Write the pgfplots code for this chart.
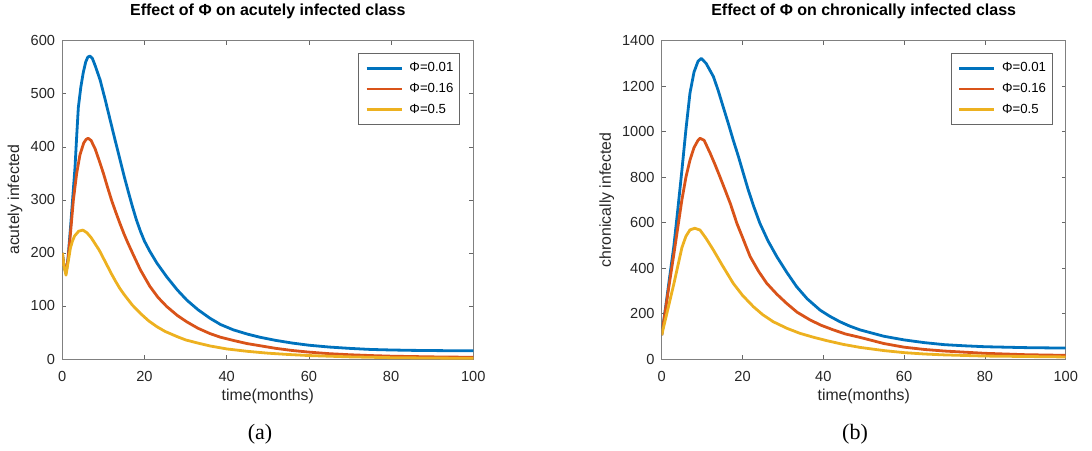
\documentclass[border=0pt]{standalone}
\usepackage{fontspec}
\setmainfont{Liberation Sans}
\newfontfamily\capfont{Liberation Serif}
\usepackage{pgfplots}
\pgfplotsset{compat=1.18}

\definecolor{mblue}{rgb}{0,0.447,0.741}
\definecolor{morange}{rgb}{0.85,0.325,0.098}
\definecolor{myellow}{rgb}{0.929,0.694,0.125}

\pgfplotsset{
  myaxis/.style={
    scale only axis,
    xmin=0,xmax=100,
    ymin=0,
    xtick={0,20,...,100},
    tick align=inside,
    major tick length=4pt,
    axis line style={black!50, line width=0.8pt},
    every tick/.style={black!60, line width=0.6pt},
    tick label style={font=\fontsize{14.6}{16}\selectfont, text=black!85},
    /pgf/number format/assume math mode=true,
    /pgf/number format/1000 sep={},
    xticklabel style={anchor=base, yshift=-22.7pt},
    yticklabel style={anchor=east, inner sep=0pt, xshift=-7pt},
    label style={font=\fontsize{15.8}{17}\selectfont, text=black!85},
    xlabel style={at={(axis description cs:0.5,0)}, anchor=base, yshift=-41pt},
    title style={at={(axis description cs:0.5,1)}, anchor=base, yshift=19pt, font=\bfseries\fontsize{16}{18}\selectfont},
    legend style={at={(0.968,0.960)}, anchor=north east, draw=black!60, fill=white, line width=0.7pt,
      font=\fontsize{13.2}{14}\selectfont, inner xsep=6.4pt, inner ysep=7.8pt,
      row sep=7.6pt, column sep=6.5pt,
      nodes={inner sep=0pt, text height=10pt, text depth=3.2pt}},
    legend cell align=left,
    legend image code/.code={\draw[#1] (0pt,0pt) -- (35pt,0pt);},
    every axis plot/.append style={line width=2.8pt, line join=round},
  }
}

\begin{document}
\begin{tikzpicture}
\path[use as bounding box] (0,0) rectangle (1092pt,450pt);

\begin{axis}[myaxis, at={(62.3pt,91pt)}, anchor=south west,
  width=411pt, height=318.3pt, ymax=600, ytick={0,100,...,600},
  title={Effect of Φ on acutely infected class},
  xlabel={time(months)}, ylabel={acutely infected},
  ylabel style={at={(axis description cs:-0.115,0.5)}, anchor=center}]
\addplot[mblue] coordinates {(0,200)(0.4,176)(0.9,162)(1.4,190)(2,248)(2.5,300)(3.1,362)(3.5,420)(3.9,474)(4.5,512)(5.1,540)(5.7,560)(6.2,569)(6.7,571)(7.3,567)(8.0,553)(9.2,526)(10.4,490)(11.6,452)(12.8,414)(14,377)(15,346)(16,317)(17,289)(18,263)(19,241)(20,222)(21.3,203)(23,181)(25.4,155)(28,130)(30.3,111)(33,93)(35.9,77)(38.5,65)(41.6,55)(45,47)(48.1,41)(52,35)(56,30)(60,26)(65,22.5)(70,20)(75,18)(80,17)(85,16.3)(90,15.9)(95,15.6)(100,15.5)};
\addplot[morange] coordinates {(0,200)(0.4,176)(0.9,163)(1.4,188)(2,238)(2.7,300)(3.5,350)(4.3,385)(5.2,407)(5.8,414)(6.3,416)(7.0,412)(8.0,396)(9.2,369)(10,350)(11,324)(12,299)(13,277)(14,256)(15,236)(16,218)(17.3,196)(19,168)(21.3,137)(23.3,116)(25.4,99)(28,82)(30.3,70)(33,58)(35.9,48)(38.5,41)(41.6,35)(45,29)(48.1,25)(52,20)(56,16)(60,13)(65,10)(70,8)(75,6.5)(80,5.3)(90,4)(100,3.2)};
\addplot[myellow] coordinates {(0,200)(0.4,175)(0.9,158)(1.4,182)(2,210)(2.5,223)(3,232)(4,241)(5,243)(6,238)(7,229)(8,217)(9,205)(10,190)(11,175)(12,160)(13,146)(14,133)(15,122)(17,102)(19,86)(21,72)(23,61)(25,52)(28,42)(30,36)(33,30)(36,24.5)(40,19)(45,14.5)(50,11)(55,8.5)(60,6.5)(70,4)(80,2.5)(90,1.8)(100,1.3)};
\legend{Φ=0.01,Φ=0.16,Φ=0.5}
\end{axis}

\begin{axis}[myaxis, at={(661.7pt,91pt)}, anchor=south west,
  width=404pt, height=318.3pt, ymax=1400, ytick={0,200,...,1400},
  title={Effect of Φ on chronically infected class},
  xlabel={time(months)}, ylabel={chronically infected},
  ylabel style={at={(axis description cs:-0.136,0.5)}, anchor=center}]
\addplot[mblue] coordinates {(0,105)(1,232)(2,365)(3,495)(4,660)(5,830)(6,1010)(7,1170)(8,1262)(9,1310)(9.8,1322)(11,1300)(12.8,1242)(14,1180)(15.2,1110)(16.5,1035)(17.7,963)(19,890)(20.2,817)(21.4,745)(22.8,670)(24.3,597)(26.3,520)(28.5,450)(31,380)(33.4,318)(36,265)(39.2,215)(41.6,188)(44.1,164)(46.5,145)(49.1,128)(55,100)(60,84)(65,72)(70,63)(75,58)(80,54)(90,50)(100,48)};
\addplot[morange] coordinates {(0,105)(1,225)(2,345)(3,460)(4,580)(5,700)(6,800)(7,875)(8,930)(9,962)(9.5,971)(10.5,962)(12,905)(13.2,855)(14.4,802)(15.7,743)(17,683)(18.6,597)(20,535)(21.9,450)(24,385)(26,333)(28.5,285)(30.9,245)(33.5,206)(36.7,172)(39.5,148)(42.5,128)(45.5,110)(49.1,95)(55,68)(60,52)(65,42)(70,35)(80,25)(90,19)(100,16)};
\addplot[myellow] coordinates {(0,105)(1,180)(2,255)(3,330)(4,410)(5,490)(6,540)(7,568)(8.2,575)(9.5,567)(11,530)(12.8,479)(15,412)(17.7,333)(20,280)(22.7,230)(25,195)(27.6,164)(31,135)(34.2,113)(37.5,96)(40.8,81)(45,64)(49.1,51)(55,37)(60,28)(65,22)(70,18)(80,13)(90,11)(100,9)};
\legend{Φ=0.01,Φ=0.16,Φ=0.5}
\end{axis}

\node[font=\capfont\fontsize{22}{24}\selectfont, anchor=base] at (260pt,11pt) {(a)};
\node[font=\capfont\fontsize{22}{24}\selectfont, anchor=base] at (855pt,11pt) {(b)};
\end{tikzpicture}
\end{document}
